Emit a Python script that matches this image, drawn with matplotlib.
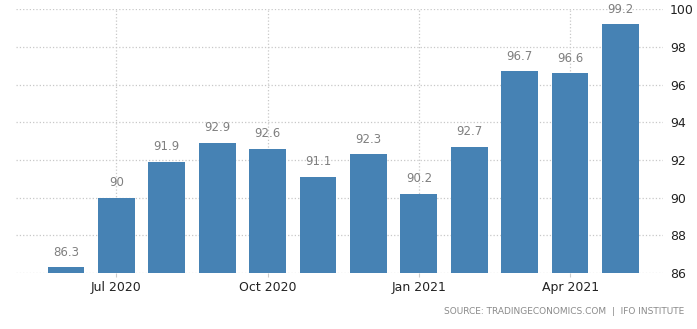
import matplotlib.pyplot as plt
import numpy as np

months = ["Jun 2020", "Jul 2020", "Aug 2020", "Sep 2020", "Oct 2020", "Nov 2020",
          "Dec 2020", "Jan 2021", "Feb 2021", "Mar 2021", "Apr 2021", "May 2021"]
values = [86.3, 90, 91.9, 92.9, 92.6, 91.1, 92.3, 90.2, 92.7, 96.7, 96.6, 99.2]
labels = ["86.3", "90", "91.9", "92.9", "92.6", "91.1", "92.3", "90.2", "92.7", "96.7", "96.6", "99.2"]
tick_months = ["Jul 2020", "Oct 2020", "Jan 2021", "Apr 2021"]

fig = plt.figure(figsize=(6.97, 3.29), dpi=100)
ax = fig.add_axes([0.023, 0.170, 0.928, 0.8024])

x = np.arange(len(values))
ax.bar(x, np.array(values) - 86, bottom=86, width=0.73, color="#4682b4", zorder=3)

for xi, v, lab in zip(x, values, labels):
    ax.text(xi, v + 0.45, lab, ha="center", va="bottom", fontsize=8.5, color="#808080")

ax.set_ylim(86, 100)
ax.set_xlim(-0.99, 11.84)
ax.set_yticks(range(86, 101, 2))
ax.yaxis.tick_right()
ax.tick_params(axis="y", length=0, pad=5, labelsize=9, labelcolor="#222222")

pos = [months.index(m) for m in tick_months]
ax.set_xticks(pos)
ax.set_xticklabels(tick_months)
ax.tick_params(axis="x", length=3, color="#cccccc", pad=3, labelsize=9, labelcolor="#222222")

ax.grid(True, linestyle=":", color="#c8c8c8", linewidth=0.9, zorder=0)
ax.set_axisbelow(True)
for s in ax.spines.values():
    s.set_visible(False)

fig.text(0.981, 0.052, "SOURCE: TRADINGECONOMICS.COM  |  IFO INSTITUTE", ha="right",
         va="center", fontsize=6.5, color="#8a8a8a")

fig.savefig("out.png", dpi=100)
